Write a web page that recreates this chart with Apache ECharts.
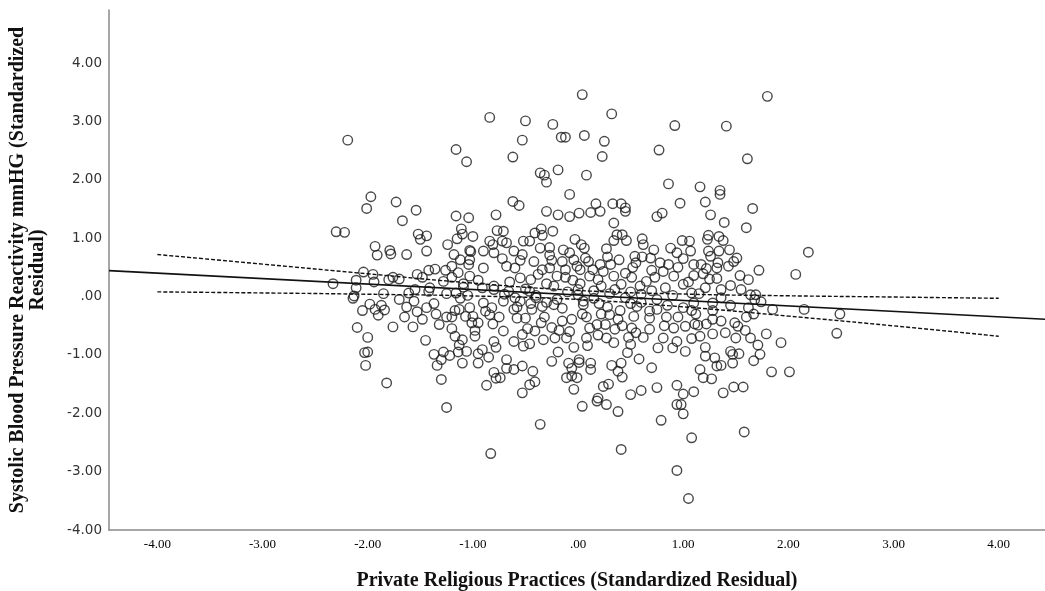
<!DOCTYPE html>
<html>
<head>
<meta charset="utf-8">
<script src="https://cdn.jsdelivr.net/npm/echarts@6/dist/echarts.min.js"></script>
<style>
html,body{margin:0;padding:0;background:#fff;}
#chart{width:1045px;height:591px;}
</style>
</head>
<body>
<div id="chart"></div>
<script>
// Tick values shown on the axes
var xTicks = [-4, -3, -2, -1, 0, 1, 2, 3, 4];
var yTicks = [-4, -3, -2, -1, 0, 1, 2, 3, 4];

// Fitted regression line (endpoints at the plot edges)
var fitLine = [[-4.46, 0.445], [4.44, -0.39]];

// 95% confidence band for the mean
var ciX     = [-4, -3, -2, -1, 0, 1, 2, 3, 4];
var ciUpper = [0.72, 0.556, 0.39, 0.23, 0.105, 0.043, 0.013, -0.008, -0.03];
var ciLower = [0.08, 0.062, 0.04, 0.01, -0.05, -0.177, -0.335, -0.502, -0.68];

// Scatter points [x, y] (standardized residuals)
var pointsUpperLeft = [
[-0.84,3.07],[-2.19,2.68],[-1.16,2.52],[-1.06,2.31],[-1.97,1.71],[-2.01,1.51],[-1.73,1.62],[-1.54,1.48],[-1.67,1.30],[-1.16,1.38],
[-1.04,1.35],[-0.78,1.40],[-2.30,1.11],[-2.22,1.10],[-1.52,1.07],[-1.44,1.04],[-1.50,0.98],[-1.11,1.16],[-1.10,1.07],[-1.00,1.03],
[-1.15,0.99],[-1.24,0.89],[-0.77,1.13],[-0.84,0.95],[-0.81,0.89],[-0.80,0.75],[-1.93,0.86],[-1.91,0.71],[-1.79,0.79],[-1.78,0.73],
[-1.63,0.72],[-1.44,0.78],[-1.18,0.72],[-1.12,0.63],[-1.03,0.79],[-1.02,0.77],[-1.03,0.63],[-1.04,0.55],[-0.90,0.49],[-2.04,0.42],
[-2.11,0.28],[-2.11,0.15],[-2.33,0.22],[-1.94,0.25],[-1.76,0.33],[-1.70,0.30],[-1.80,0.29],[-1.53,0.38],[-1.48,0.33],[-1.42,0.45],
[-1.36,0.47],[-1.26,0.45],[-1.20,0.33],[-1.28,0.26],[-1.14,0.41],[-1.03,0.35],[-1.09,0.22],[-1.09,0.16],[-0.91,0.15],[-0.80,0.18],
[-0.80,0.12],[-1.41,0.15],[-1.42,0.09],[-1.61,0.06],[-2.13,0.01],[-1.16,0.06]
];
var pointsLowerLeft = [
[-2.14,-0.03],[-2.05,-0.24],[-1.98,-0.13],[-1.93,-0.22],[-1.87,-0.15],[-1.84,-0.23],[-1.90,-0.32],[-2.10,-0.53],[-2.00,-0.70],[-1.76,-0.52],
[-2.03,-0.96],[-2.00,-0.95],[-2.02,-1.18],[-1.82,-1.48],[-1.63,-0.18],[-1.56,-0.08],[-1.53,-0.26],[-1.48,-0.39],[-1.44,-0.19],[-1.37,-0.12],
[-1.57,-0.52],[-1.45,-0.75],[-1.32,-0.48],[-1.25,-0.35],[-1.20,-0.35],[-1.17,-0.24],[-1.13,-0.22],[-1.12,-0.03],[-1.03,-0.19],[-1.07,-0.34],
[-1.00,-0.34],[-1.01,-0.45],[-0.95,-0.45],[-0.90,-0.11],[-0.82,-0.19],[-0.84,-0.31],[-0.81,-0.47],[-1.17,-0.68],[-1.10,-0.74],[-1.13,-0.83],
[-0.98,-0.68],[-1.14,-0.95],[-1.06,-0.94],[-1.28,-0.95],[-1.37,-0.99],[-1.22,-1.01],[-1.30,-1.08],[-1.34,-1.18],[-1.10,-1.14],[-0.95,-0.98],
[-0.91,-0.91],[-0.85,-1.04],[-0.95,-1.14],[-0.80,-0.77],[-0.78,-0.87],[-0.80,-1.30],[-0.78,-1.40],[-0.87,-1.52],[-1.30,-1.42],[-1.25,-1.90],
[-0.83,-2.69]
];
var pointsUpperMid = [
[0.04,3.46],[0.32,3.13],[-0.50,3.01],[-0.24,2.95],[0.92,2.93],[-0.53,2.68],[-0.16,2.73],[-0.12,2.73],[0.06,2.76],[0.25,2.66],
[0.23,2.40],[-0.62,2.39],[0.77,2.51],[-0.36,2.12],[-0.32,2.08],[-0.30,1.96],[-0.19,2.17],[0.08,2.08],[0.86,1.93],[-0.08,1.75],
[-0.62,1.63],[-0.56,1.56],[-0.30,1.46],[-0.19,1.40],[-0.08,1.37],[0.01,1.43],[0.12,1.44],[0.17,1.59],[0.21,1.46],[0.33,1.59],
[0.41,1.59],[0.45,1.52],[0.45,1.46],[0.34,1.26],[0.75,1.37],[0.80,1.43],[0.97,1.60],[-0.24,1.12],[-0.35,1.16],[-0.41,1.09],
[-0.34,1.05],[-0.46,0.95],[-0.52,0.95],[-0.71,1.12],[-0.68,0.92],[-0.61,0.78],[-0.53,0.72],[-0.36,0.83],[-0.27,0.84],[-0.27,0.71],
[-0.03,0.98],[0.03,0.89],[0.06,0.83],[-0.14,0.80],[-0.08,0.75],[0.07,0.66],[-0.04,0.63],[0.27,0.82],[0.34,0.96],[0.37,1.06],
[0.42,1.06],[0.46,0.96],[0.61,0.99],[0.62,0.89],[0.54,0.69],[0.61,0.68],[0.69,0.66],[0.39,0.63],[0.31,0.55],[0.21,0.55],
[0.52,0.50],[0.88,0.83],[0.94,0.75],[0.86,0.55],[0.81,0.43],[0.91,0.35],[0.73,0.33],[0.65,0.26],[0.51,0.33],[0.34,0.35],
[0.24,0.43],[0.14,0.46],[0.02,0.46],[-0.01,0.52],[-0.12,0.46],[-0.27,0.49],[-0.34,0.46],[-0.42,0.60],[-0.60,0.49],[-0.68,0.52],
[-0.55,0.32],[-0.45,0.29],[-0.30,0.22],[-0.12,0.33],[0.02,0.22],[0.11,0.35],[0.19,0.29],[0.22,0.18],[0.41,0.21],[0.59,0.18],
[0.83,0.15],[-0.23,0.18],[-0.46,0.09],[-0.66,0.09],[-0.72,0.95]
];
var pointsCentreBand = [
[-0.60,-0.02],[-0.40,0.02],[-0.20,-0.05],[0.00,0.03],[0.15,-0.03],[0.30,0.05],[0.45,-0.02],[0.60,0.04],[0.75,-0.05],[0.90,0.02],
[-0.50,0.13],[0.00,0.12],[0.35,0.12],[0.70,0.10],[-0.30,-0.10],[0.20,-0.12],[0.60,-0.10],[-0.10,0.08],[-0.70,0.04],[0.50,0.08],
[-0.15,-0.20],[0.40,-0.24],[0.85,-0.15],[-0.45,-0.12],[0.05,-0.08],
[-1.85,0.05],[-1.70,-0.05],[-1.55,0.12],[-1.35,-0.30],[-1.25,0.05],[-1.65,-0.35],[-1.95,0.38],
[-1.05,0.02],[-0.95,0.28],[-0.88,-0.25],[-0.75,-0.35],[-0.65,0.25],[-0.98,-0.58],[-1.20,-0.55],[-0.72,0.65],[-0.90,0.78],[-1.20,0.52],
[-0.55,0.62],[-0.38,0.38],[-0.20,0.35],[-0.05,0.28],[-0.32,-0.35],[-0.18,-0.58],[-0.48,-0.55],[-0.08,-0.60],[-0.25,0.62],[-0.15,0.60],
[-0.40,-0.02],[-0.58,-0.18],
[0.10,0.60],[0.28,0.68],[0.45,0.40],[0.55,0.58],[0.08,-0.35],[0.22,-0.30],[0.42,-0.50],[0.55,-0.62],[0.15,0.10],[0.28,-0.18],[0.50,-0.12],
[0.70,0.45],[0.78,0.58],[0.95,0.50],[1.05,0.25],[0.68,-0.25],[0.82,-0.50],[0.95,-0.35],[1.15,0.05],[1.12,-0.30],[0.72,0.80],[1.00,0.65],
[1.25,0.30],[1.45,-0.15],[1.55,0.12],[1.60,-0.35],[1.48,0.60],[1.72,0.45]
];
var pointsUpperRight = [
[1.80,3.43],[1.41,2.92],[1.61,2.36],[1.16,1.88],[1.35,1.82],[1.35,1.75],[1.21,1.62],[1.66,1.51],[1.26,1.40],[1.39,1.27],
[1.60,1.18],[1.24,1.05],[1.23,0.98],[1.34,1.03],[1.38,0.96],[1.06,0.95],[0.99,0.96],[1.07,0.78],[1.24,0.78],[1.34,0.78],
[1.44,0.80],[1.26,0.69],[1.51,0.66],[1.10,0.55],[1.17,0.55],[1.22,0.48],[1.33,0.58],[1.32,0.49],[1.43,0.52],[1.10,0.36],
[1.19,0.39],[1.32,0.31],[1.54,0.36],[1.62,0.29],[1.45,0.19],[1.36,0.12],[1.21,0.15],[1.00,0.21],[1.08,0.06],[1.64,0.03],
[1.69,0.03],[2.19,0.76],[2.07,0.38]
];
var pointsLowerMid = [
[-0.71,-0.08],[-0.61,-0.22],[-0.55,-0.08],[-0.50,-0.37],[-0.58,-0.37],[-0.71,-0.59],[-0.61,-0.77],[-0.53,-0.65],[-0.52,-0.85],[-0.44,-0.22],
[-0.34,-0.17],[-0.35,-0.45],[-0.41,-0.59],[-0.46,-0.81],[-0.33,-0.74],[-0.25,-0.53],[-0.23,-0.14],[-0.22,-0.71],[-0.15,-0.42],[-0.11,-0.71],
[-0.06,-0.39],[-0.04,-0.87],[0.04,-0.30],[0.05,-0.14],[0.11,-0.54],[0.08,-0.71],[0.09,-0.84],[0.19,-0.66],[0.18,-0.48],[0.26,-0.48],
[0.27,-0.71],[0.34,-0.79],[0.35,-0.56],[0.30,-0.31],[0.38,-0.39],[0.48,-0.70],[0.51,-0.54],[0.50,-0.82],[0.53,-0.34],[0.56,-0.17],
[0.62,-0.70],[0.68,-0.56],[0.68,-0.37],[0.75,-0.22],[0.81,-0.71],[0.76,-0.88],[0.84,-0.35],[0.91,-0.54],[0.94,-0.77],[0.90,-0.88],
[-0.68,-1.08],[-0.68,-1.23],[-0.61,-1.25],[-0.53,-1.19],[-0.43,-1.28],[-0.41,-1.46],[-0.46,-1.51],[-0.53,-1.65],[-0.36,-2.19],[-0.25,-1.11],
[-0.19,-0.95],[-0.09,-1.14],[-0.11,-1.39],[-0.06,-1.23],[-0.06,-1.36],[-0.01,-1.39],[0.01,-1.08],[0.01,-1.13],[-0.04,-1.59],[0.04,-1.88],
[0.12,-1.14],[0.12,-1.25],[0.18,-1.79],[0.19,-1.74],[0.24,-1.54],[0.29,-1.50],[0.27,-1.85],[0.32,-1.18],[0.38,-1.28],[0.42,-1.38],
[0.41,-1.14],[0.47,-0.96],[0.38,-1.97],[0.50,-1.68],[0.58,-1.07],[0.60,-1.61],[0.70,-1.22],[0.75,-1.56],[0.79,-2.12],[0.41,-2.62],
[0.94,-1.52],[0.94,-1.85],[0.94,-2.98],[-0.74,-1.39]
];
var pointsLowerRight = [
[1.00,-0.19],[1.10,-0.11],[1.08,-0.24],[1.28,-0.11],[1.28,-0.24],[1.36,-0.02],[1.62,-0.19],[1.67,-0.30],[1.74,-0.09],[1.85,-0.22],
[2.15,-0.22],[2.49,-0.30],[2.46,-0.63],[1.93,-0.79],[1.79,-0.64],[1.02,-0.51],[1.11,-0.47],[1.14,-0.49],[1.22,-0.47],[1.28,-0.39],
[1.36,-0.42],[1.28,-0.64],[1.40,-0.62],[1.16,-0.68],[1.08,-0.72],[1.49,-0.45],[1.52,-0.51],[1.59,-0.58],[1.50,-0.71],[1.64,-0.71],
[1.71,-0.83],[1.73,-0.99],[1.67,-1.10],[1.47,-0.99],[1.53,-0.98],[1.45,-0.94],[1.47,-1.14],[1.36,-1.18],[1.32,-1.19],[1.30,-1.05],
[1.21,-0.87],[1.21,-1.02],[1.02,-0.94],[1.16,-1.25],[1.19,-1.39],[1.27,-1.41],[1.84,-1.29],[2.01,-1.29],[1.48,-1.55],[1.57,-1.55],
[1.38,-1.65],[1.10,-1.63],[1.00,-1.67],[0.98,-1.85],[1.00,-2.01],[1.08,-2.42],[1.58,-2.32],[1.05,-3.46],[1.68,-0.05]
];

var allPoints = [].concat(pointsUpperLeft, pointsLowerLeft, pointsUpperMid, pointsCentreBand,
                          pointsUpperRight, pointsLowerMid, pointsLowerRight);

function zip(xs, ys){ return xs.map(function(x,i){ return [x, ys[i]]; }); }
function fmt(v){ return v === 0 ? '.00' : v.toFixed(2); }

var chart = echarts.init(document.getElementById('chart'), null, {renderer:'canvas'});
chart.setOption({
  animation: false,
  backgroundColor: '#ffffff',
  grid: {left: 109, right: 0, top: 10, bottom: 61, containLabel: false, outerBoundsMode: 'none'},
  xAxis: {
    type: 'value', min: -4.46, max: 4.44,
    splitLine: {show: false},
    axisLine: {show: true, onZero: false, lineStyle: {color: '#8a8a8a', width: 1.5}},
    axisTick: {show: false},
    axisLabel: {customValues: xTicks, formatter: fmt, margin: 8,
                fontFamily: 'Liberation Serif', fontSize: 13, color: '#000'},
    name: 'Private Religious Practices (Standardized Residual)',
    nameLocation: 'middle', nameGap: 41,
    nameTextStyle: {fontFamily: 'Liberation Serif', fontWeight: 'bold', fontSize: 20, color: '#111'}
  },
  yAxis: {
    type: 'value', min: -4, max: 4.91,
    splitLine: {show: false},
    axisLine: {show: true, onZero: false, lineStyle: {color: '#8a8a8a', width: 1.5}},
    axisTick: {show: false},
    axisLabel: {customValues: yTicks, formatter: fmt, margin: 7,
                fontFamily: 'DejaVu Sans', fontSize: 13.5, color: '#333'},
    name: 'Systolic Blood Pressure Reactivity mmHG (Standardized\nResidual)',
    nameLocation: 'middle', nameGap: 61, nameRotate: 90,
    nameTextStyle: {fontFamily: 'Liberation Serif', fontWeight: 'bold', fontSize: 20,
                    lineHeight: 20, color: '#111', align: 'center'}
  },
  series: [
    {
      type: 'scatter', data: allPoints, symbol: 'circle', symbolSize: 9.5,
      itemStyle: {color: 'rgba(0,0,0,0)', borderColor: '#1a1a1a', borderWidth: 1.4},
      z: 3
    },
    {
      type: 'line', data: fitLine, symbol: 'none',
      lineStyle: {color: '#111', width: 1.6}, z: 4
    },
    {
      type: 'line', data: zip(ciX, ciUpper), symbol: 'none', smooth: true,
      lineStyle: {color: '#111', width: 1.4, type: [4, 2]}, z: 4
    },
    {
      type: 'line', data: zip(ciX, ciLower), symbol: 'none', smooth: true,
      lineStyle: {color: '#111', width: 1.4, type: [4, 2]}, z: 4
    }
  ]
});
</script>
</body>
</html>
